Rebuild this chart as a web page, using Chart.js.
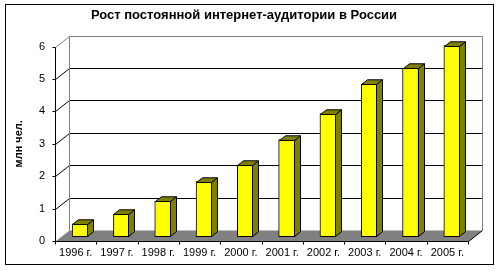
<!DOCTYPE html>
<html>
<head>
<meta charset="utf-8">
<script src="https://cdn.jsdelivr.net/npm/chart.js@4/dist/chart.umd.min.js"></script>
<style>
    html, body { margin: 0; padding: 0; background: #fff; }
</style>
</head>
<body>
<canvas id="audienceChart" width="500" height="271"></canvas>
<script>
// Data
const years = ['1996 г.', '1997 г.', '1998 г.', '1999 г.', '2000 г.', '2001 г.', '2002 г.', '2003 г.', '2004 г.', '2005 г.'];
const audience = [0.4, 0.7, 1.1, 1.7, 2.2, 3.0, 3.8, 4.7, 5.2, 5.9];
const yTicks = [0, 1, 2, 3, 4, 5, 6];

const FONT = "Arial, 'Liberation Sans', sans-serif";

// 3D depth of the plot (back wall offset) and of the bars
const DX = 14, DY = 11;
const BAR_OX = 4.5, BAR_OY = 4.3;
const BAR_DX = 6, BAR_DY = 4.7;

function line(ctx, x1, y1, x2, y2, color) {
    ctx.strokeStyle = color;
    ctx.beginPath();
    ctx.moveTo(x1, y1);
    ctx.lineTo(x2, y2);
    ctx.stroke();
}

const depthPlugin = {
    id: 'depth3d',
    beforeDatasetsDraw(chart) {
        const ctx = chart.ctx;
        const area = chart.chartArea;
        const yScale = chart.scales.y;
        const xScale = chart.scales.x;
        const L = Math.round(area.left) + 0.5;
        const R = Math.round(area.right) + 0.5;
        const B = Math.round(area.bottom) + 0.5;
        const T = Math.round(yScale.getPixelForValue(6)) + 0.5;

        ctx.save();
        ctx.lineWidth = 1;

        // floor
        ctx.fillStyle = '#808080';
        ctx.beginPath();
        ctx.moveTo(L, B);
        ctx.lineTo(R, B);
        ctx.lineTo(R + DX, B - DY);
        ctx.lineTo(L + DX, B - DY);
        ctx.closePath();
        ctx.fill();

        // back wall grid + side diagonals + y tick marks
        yTicks.forEach(v => {
            const py = Math.round(yScale.getPixelForValue(v)) + 0.5;
            const top = v === yTicks[yTicks.length - 1];
            if (v > 0 && !top) {
                line(ctx, L + DX, py - DY, R + DX, py - DY, '#000');
            }
            if (v > 0) {
                line(ctx, L, py, L + DX, py - DY, top ? '#808080' : '#000');
            }
            line(ctx, L - 3, py, L, py, '#000');
        });

        // wall outline
        ctx.strokeStyle = '#808080';
        ctx.beginPath();
        ctx.moveTo(L + DX, B - DY);
        ctx.lineTo(L + DX, T - DY);
        ctx.lineTo(R + DX, T - DY);
        ctx.lineTo(R + DX, B - DY);
        ctx.stroke();

        // front axes
        ctx.strokeStyle = '#000';
        ctx.beginPath();
        ctx.moveTo(L, T);
        ctx.lineTo(L, B);
        ctx.lineTo(R, B);
        ctx.lineTo(R + DX, B - DY);
        ctx.stroke();

        // x tick marks at category borders
        for (let i = 0; i <= years.length; i++) {
            const px = Math.round(xScale.left + i * (xScale.width / years.length)) + 0.5;
            line(ctx, px, B, px, B + 3, '#000');
        }
        ctx.restore();

        // bars are drawn shifted into the depth
        ctx.save();
        ctx.translate(BAR_OX, -BAR_OY);
    },
    afterDatasetsDraw(chart) {
        const ctx = chart.ctx;
        ctx.restore();

        ctx.save();
        ctx.lineWidth = 1;
        ctx.strokeStyle = '#000';
        ctx.fillStyle = '#808000';
        chart.getDatasetMeta(0).data.forEach(bar => {
            const left = Math.round(bar.x - bar.width / 2 + BAR_OX) + 0.5;
            const right = Math.round(bar.x + bar.width / 2 + BAR_OX) - 0.5;
            const top = Math.round(bar.y - BAR_OY) + 0.5;
            const bottom = Math.round(bar.base - BAR_OY) - 0.5;

            // side
            ctx.beginPath();
            ctx.moveTo(right, top);
            ctx.lineTo(right + BAR_DX, top - BAR_DY);
            ctx.lineTo(right + BAR_DX, bottom - BAR_DY);
            ctx.lineTo(right, bottom);
            ctx.closePath();
            ctx.fill();
            ctx.stroke();

            // top
            ctx.beginPath();
            ctx.moveTo(left, top);
            ctx.lineTo(left + BAR_DX, top - BAR_DY);
            ctx.lineTo(right + BAR_DX, top - BAR_DY);
            ctx.lineTo(right, top);
            ctx.closePath();
            ctx.fill();
            ctx.stroke();
        });
        ctx.restore();
    },
    afterDraw(chart) {
        const ctx = chart.ctx;
        ctx.save();
        ctx.strokeStyle = '#000';
        ctx.lineWidth = 1;
        ctx.strokeRect(5.5, 4.5, 488, 260);
        ctx.restore();
    }
};

new Chart(document.getElementById('audienceChart'), {
    type: 'bar',
    data: {
        labels: years,
        datasets: [{
            data: audience,
            backgroundColor: '#ffff00',
            borderColor: '#000',
            borderWidth: 1,
            borderSkipped: false,
            barThickness: 16,
            clip: false
        }]
    },
    options: {
        responsive: false,
        animation: false,
        devicePixelRatio: 1,
        layout: { padding: { left: 0, right: 12, top: 0, bottom: 0 } },
        plugins: {
            legend: { display: false },
            tooltip: { enabled: false },
            title: {
                display: true,
                text: 'Рост постоянной интернет-аудитории в России',
                color: '#000',
                font: { family: FONT, size: 13, weight: 'bold' },
                padding: { top: 8, bottom: 23 }
            }
        },
        scales: {
            x: {
                grid: { display: false, drawTicks: false },
                border: { display: false },
                ticks: {
                    color: '#000',
                    font: { family: FONT, size: 11 },
                    padding: 5,
                    maxRotation: 0,
                    autoSkip: false
                },
                afterFit(scale) { scale.height = 30; }
            },
            y: {
                min: 0,
                max: 6,
                grid: { display: false, drawTicks: false },
                border: { display: false },
                ticks: {
                    stepSize: 1,
                    color: '#000',
                    font: { family: FONT, size: 11 },
                    padding: 10
                },
                title: {
                    display: true,
                    text: 'млн чел.',
                    color: '#000',
                    font: { family: FONT, size: 11, weight: 'bold' },
                    padding: { top: 12, bottom: 0 }
                },
                afterFit(scale) { scale.width = 55; }
            },
            y2: {
                position: 'right',
                display: true,
                grid: { display: false, drawTicks: false },
                border: { display: false },
                ticks: { display: false },
                afterFit(scale) { scale.width = 20; }
            }
        }
    },
    plugins: [depthPlugin]
});
</script>
</body>
</html>
